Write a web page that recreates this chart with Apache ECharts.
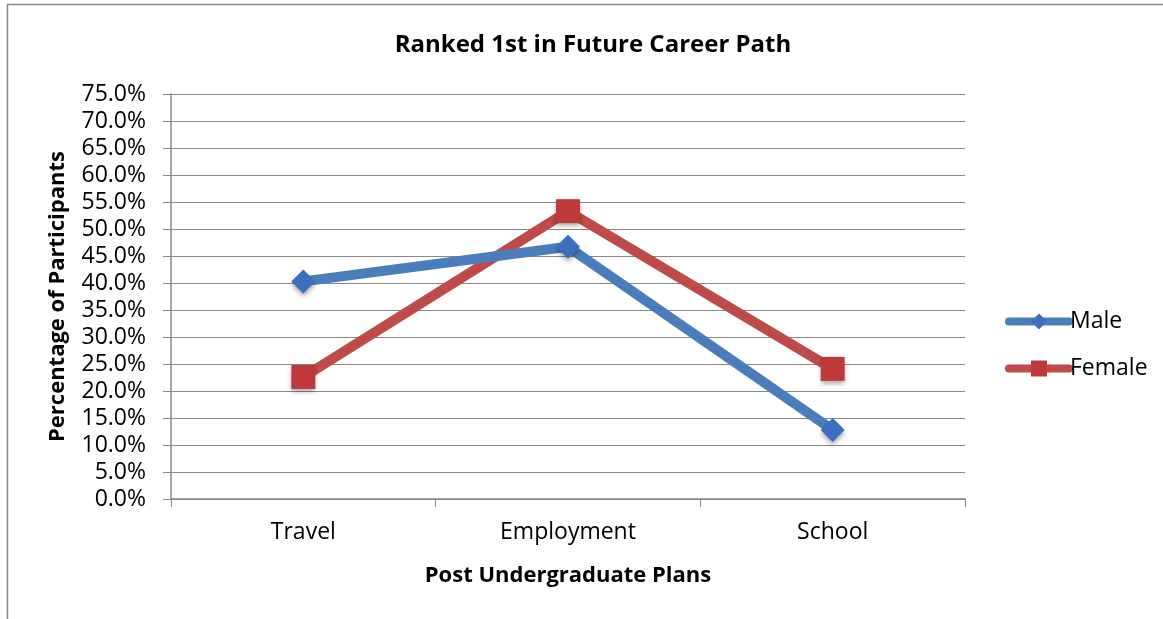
<!DOCTYPE html>
<html><head><meta charset="utf-8">
<script src="https://cdn.jsdelivr.net/npm/echarts@6/dist/echarts.min.js"></script>
<style>html,body{margin:0;padding:0;background:#fff}#c{width:1163px;height:619px}</style>
</head><body><div id="c"></div>
<script>
var categories = ['Travel', 'Employment', 'School'];
var maleValues = [40.3, 46.7, 12.8];
var femaleValues = [22.6, 53.3, 24.1];
var yTicks = [0, 5, 10, 15, 20, 25, 30, 35, 40, 45, 50, 55, 60, 65, 70, 75];
var FONT = 'Open Sans';
var chart = echarts.init(document.getElementById('c'));
chart.setOption({
  animation: false,
  backgroundColor: '#fff',
  graphic: [{type: 'rect', shape: {x: 7.5, y: 4.5, width: 1200, height: 700}, style: {fill: 'none', stroke: '#888', lineWidth: 1.5}, silent: true}],
  title: {text: 'Ranked 1st in Future Career Path', left: 588, top: 28, textAlign: 'center',
    textStyle: {fontFamily: FONT, fontWeight: 'bold', fontSize: 24, color: '#000'}},
  legend: {orient: 'vertical', left: 1000, top: 305, itemGap: 24, itemWidth: 60, itemHeight: 20,
    textStyle: {fontFamily: FONT, fontSize: 23, color: '#000', padding: [0,0,0,-4]},
    data: [
      {name: 'Male', lineStyle: {width: 8, cap: 'round'}},
      {name: 'Female', lineStyle: {width: 8, cap: 'round'}}
    ]},
  grid: {left: 171, right: 198, top: 94, bottom: 120},
  xAxis: {type: 'category', data: categories, boundaryGap: true,
    name: 'Post Undergraduate Plans', nameLocation: 'middle', nameGap: 66,
    nameTextStyle: {fontFamily: FONT, fontWeight: 'bold', fontSize: 22, color: '#000'},
    axisLine: {lineStyle: {color: '#888', width: 1.5}},
    axisTick: {show: true, length: 8, lineStyle: {color: '#888'}},
    axisLabel: {fontFamily: FONT, fontSize: 23, color: '#000', margin: 22}},
  yAxis: {type: 'value', min: 0, max: 75, interval: 5,
    name: 'Percentage of Participants', nameLocation: 'middle', nameGap: 102, nameRotate: 90,
    nameTextStyle: {fontFamily: FONT, fontWeight: 'bold', fontSize: 22, color: '#000'},
    axisLine: {show: true, lineStyle: {color: '#888', width: 1.5}},
    axisTick: {show: true, length: 8, lineStyle: {color: '#888'}},
    splitLine: {lineStyle: {color: '#888', width: 1}},
    axisLabel: {fontFamily: FONT, fontSize: 23, color: '#000', margin: 25,
      formatter: function (v) { return yTicks.indexOf(v) >= 0 ? v.toFixed(1) + '%' : ''; }}},
  series: [
    {name: 'Male', type: 'line', data: maleValues, symbol: 'diamond', symbolSize: 24,
      lineStyle: {color: '#4a7ebb', width: 10, cap: 'round'},
      itemStyle: {color: '#3c6fbe', shadowColor: 'rgba(0,0,0,0.35)', shadowBlur: 5, shadowOffsetY: 3}, z: 3},
    {name: 'Female', type: 'line', data: femaleValues, symbol: 'rect', symbolSize: 24,
      lineStyle: {color: '#be4b48', width: 10, cap: 'round'},
      itemStyle: {color: '#c0393a', shadowColor: 'rgba(0,0,0,0.35)', shadowBlur: 5, shadowOffsetY: 3}, z: 2}
  ]
});
</script></body></html>
